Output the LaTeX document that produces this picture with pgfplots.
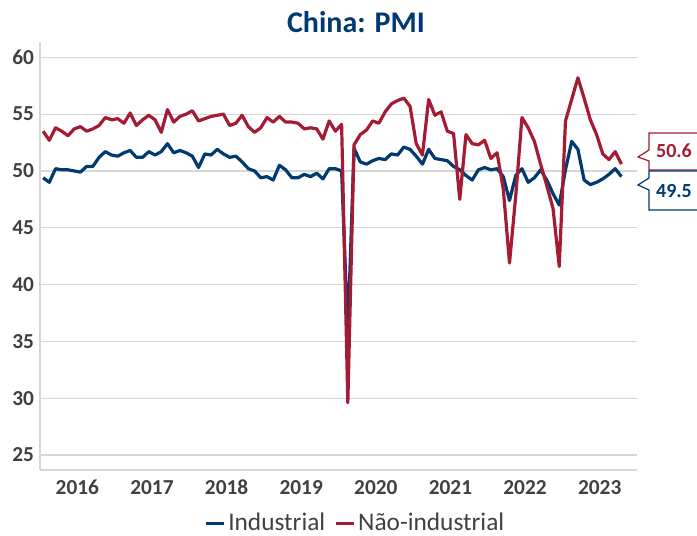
\documentclass[border=0pt]{standalone}
\usepackage{pgfplots}
\pgfplotsset{compat=1.18}
\usepackage{pgfplotstable}
\usepackage{fontspec}
\setmainfont{Carlito}
\definecolor{pmiblue}{RGB}{0,58,112}
\definecolor{pmired}{RGB}{163,28,52}
\definecolor{ticktext}{RGB}{64,64,64}
\definecolor{gridgray}{RGB}{214,214,214}

\pgfplotstableread{
t v
1 49.4
2 49.0
3 50.2
4 50.1
5 50.1
6 50.0
7 49.9
8 50.4
9 50.4
10 51.2
11 51.7
12 51.4
13 51.3
14 51.6
15 51.8
16 51.2
17 51.2
18 51.7
19 51.4
20 51.7
21 52.4
22 51.6
23 51.8
24 51.6
25 51.3
26 50.3
27 51.5
28 51.4
29 51.9
30 51.5
31 51.2
32 51.3
33 50.8
34 50.2
35 50.0
36 49.4
37 49.5
38 49.2
39 50.5
40 50.1
41 49.4
42 49.4
43 49.7
44 49.5
45 49.8
46 49.3
47 50.2
48 50.2
49 50.0
50 35.7
51 52.0
52 50.8
53 50.6
54 50.9
55 51.1
56 51.0
57 51.5
58 51.4
59 52.1
60 51.9
61 51.3
62 50.6
63 51.9
64 51.1
65 51.0
66 50.9
67 50.4
68 50.1
69 49.6
70 49.2
71 50.1
72 50.3
73 50.1
74 50.2
75 49.5
76 47.4
77 49.6
78 50.2
79 49.0
80 49.4
81 50.1
82 49.2
83 48.0
84 47.0
85 50.1
86 52.6
87 51.9
88 49.2
89 48.8
90 49.0
91 49.3
92 49.7
93 50.2
94 49.5
}\industrial

\pgfplotstableread{
t v
1 53.5
2 52.7
3 53.8
4 53.5
5 53.1
6 53.7
7 53.9
8 53.5
9 53.7
10 54.0
11 54.7
12 54.5
13 54.6
14 54.2
15 55.1
16 54.0
17 54.5
18 54.9
19 54.5
20 53.4
21 55.4
22 54.3
23 54.8
24 55.0
25 55.3
26 54.4
27 54.6
28 54.8
29 54.9
30 55.0
31 54.0
32 54.2
33 54.9
34 53.9
35 53.4
36 53.8
37 54.7
38 54.3
39 54.8
40 54.3
41 54.3
42 54.2
43 53.7
44 53.8
45 53.7
46 52.8
47 54.4
48 53.5
49 54.1
50 29.6
51 52.3
52 53.2
53 53.6
54 54.4
55 54.2
56 55.2
57 55.9
58 56.2
59 56.4
60 55.7
61 52.4
62 51.4
63 56.3
64 54.9
65 55.2
66 53.5
67 53.3
68 47.5
69 53.2
70 52.4
71 52.3
72 52.7
73 51.1
74 51.6
75 48.4
76 41.9
77 47.8
78 54.7
79 53.8
80 52.6
81 50.6
82 48.7
83 46.7
84 41.6
85 54.4
86 56.3
87 58.2
88 56.4
89 54.5
90 53.2
91 51.5
92 51.0
93 51.7
94 50.6
}\nonindustrial

\begin{document}
\begin{tikzpicture}[x=0.75pt,y=0.75pt]
\path[use as bounding box] (0,0) rectangle (697,536);
\begin{axis}[
  at={(30pt,49.5pt)}, anchor=south west,
  scale only axis,
  width=447.75pt, height=321pt,
  xmin=0.5, xmax=96.5,
  ymin=23.68, ymax=61.35,
  axis x line*=bottom, axis y line*=left,
  axis line style={draw=gridgray, line width=1pt},
  ytick={25,30,...,60},
  xtick={6.5,18.5,30.5,42.5,54.5,66.5,78.5,90.5},
  xticklabels={2016,2017,2018,2019,2020,2021,2022,2023},
  major tick length=0pt,
  ymajorgrids, grid style={draw=gridgray, line width=0.9pt},
  tick label style={font=\fontsize{16}{16}\selectfont\bfseries, text=ticktext},
  /pgf/number format/assume math mode=true,
  xticklabel style={yshift=-4pt},
  yticklabel style={xshift=-1pt},
  legend columns=2,
  legend style={at={(0.529,-0.124)}, anchor=center, draw=none, fill=none,
    font=\fontsize{19}{19}\selectfont, text=ticktext, inner sep=1pt,
    /tikz/every even column/.append style={column sep=5pt}},
  legend image code/.code={\draw[#1, line width=2.2pt] (0pt,0pt) -- (13.5pt,0pt);},
]
\addplot[pmiblue, line width=2.4pt, line join=round, no markers] table[x=t,y=v] {\industrial};
\addlegendentry{Industrial}
\addplot[pmired, line width=2.4pt, line join=round, no markers] table[x=t,y=v] {\nonindustrial};
\addlegendentry{Não-industrial}
\end{axis}
\node[anchor=base, text=pmiblue, font=\fontsize{22.5}{22.5}\selectfont\bfseries] at (356,503.3) {China: PMI};
% callouts
\draw[pmired, line width=0.9pt, line join=miter] (697,403) -- (649,403) -- (649,386) -- (638,379) -- (649,375) -- (649,366) -- (697,366);
\draw[pmiblue, line width=0.9pt, line join=miter] (697,365) -- (649,365) -- (649,358) -- (638,351) -- (649,346) -- (649,326) -- (697,326);
\node[anchor=base, text=pmired, font=\fontsize{15}{15}\selectfont\bfseries] at (674,378.3) {50.6};
\node[anchor=base, text=pmiblue, font=\fontsize{15}{15}\selectfont\bfseries] at (674,338.7) {49.5};
\end{tikzpicture}
\end{document}
